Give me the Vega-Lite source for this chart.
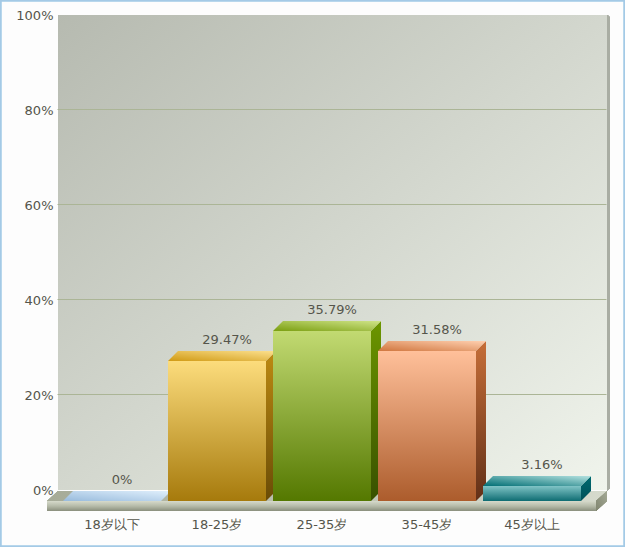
{
"$schema":"https://vega.github.io/schema/vega-lite/v6.json",
"width":549,"height":475,
"autosize":{"type":"none"},
"padding":{"left":58,"top":15,"right":18,"bottom":57},
"background":"#fdfdfd",
"config":{"font":"DejaVu Sans","view":{"stroke":null},
"axis":{"labelFont":"DejaVu Sans","labelFontSize":13,"labelColor":"#55554b","title":null,"domain":false,"ticks":false}},
"view":{"stroke":null,"fill":{"gradient":"linear","x1":0,"y1":0,"x2":1,"y2":1,"stops":[{"offset":0,"color":"#b6bab0"},{"offset":1,"color":"#f0f4ec"}]}},
"data":{"values":[
{"cat":"18岁以下","pct":0,"label":"0%"},
{"cat":"18-25岁","pct":29.47,"label":"29.47%"},
{"cat":"25-35岁","pct":35.79,"label":"35.79%"},
{"cat":"35-45岁","pct":31.58,"label":"31.58%"},
{"cat":"45岁以上","pct":3.16,"label":"3.16%"}]},
"encoding":{
"x":{"field":"cat","type":"nominal","sort":null,"scale":{"domain":["18岁以下","18-25岁","25-35岁","35-45岁","45岁以上"],"paddingInner":0.0667,"paddingOuter":0.1476,"align":0.1613},"axis":{"labelAngle":0,"labelPadding":34,"labelBaseline":"middle","grid":false}},
"y":{"field":"pct","type":"quantitative","scale":{"domain":[0,100],"nice":false},"axis":{"values":[0,20,40,60,80,100],"labelExpr":"datum.value+'%'","labelPadding":4,"labelOffset":1,"translate":-0.5,"grid":true,"gridColor":{"condition":{"test":"datum.value===100||datum.value===0","value":"transparent"},"value":"#abb596"},"gridWidth":1}}
},
"layer":[
{"mark":{"type":"point","filled":true,"opacity":1,"size":4,"shape":"M-11,11L0,1L549,1L538,11Z","fill":{"gradient":"linear","x1":0,"y1":0,"x2":1,"y2":0,"stops":[{"offset":0,"color":"#a6ab98"},{"offset":1,"color":"#d6dacd"}]}},
 "encoding":{"x":{"value":0},"y":{"datum":0}}},
{"mark":{"type":"point","filled":true,"opacity":1,"size":4,"shape":"M-11,21L-11,11L538,11L538,21Z","fill":{"gradient":"linear","x1":0,"y1":0,"x2":0,"y2":1,"stops":[{"offset":0,"color":"#d6dacb"},{"offset":0.5,"color":"#b6bba9"},{"offset":1,"color":"#8a8f7d"}]}},
 "encoding":{"x":{"value":0},"y":{"datum":0}}},
{"mark":{"type":"point","filled":true,"opacity":1,"size":4,"shape":"M538,21L538,11L549,1L549,11Z","fill":{"gradient":"linear","x1":0,"y1":1,"x2":1,"y2":0,"stops":[{"offset":0,"color":"#80856f"},{"offset":1,"color":"#a5aa97"}]}},
 "encoding":{"x":{"value":0},"y":{"datum":0}}},
{"mark":{"type":"point","filled":true,"opacity":1,"size":4,"shape":"M0,0L2,1L3,3L3,473L0,476Z","fill":"#a9ada3"},
 "encoding":{"x":{"value":549},"y":{"datum":100}}},

{"transform":[{"filter":"datum.cat==='18-25岁'"}],"mark":{"type":"point","filled":true,"opacity":1,"size":4,"shape":"M49,11L59,1L59,141L49,151Z","fill":{"gradient":"linear","x1":0,"y1":0,"x2":0,"y2":1,"stops":[{"offset":0,"color":"#bd8a12"},{"offset":1,"color":"#6a4c06"}]}}},
{"transform":[{"filter":"datum.cat==='25-35岁'"}],"mark":{"type":"point","filled":true,"opacity":1,"size":4,"shape":"M49,11L59,1L59,171L49,181Z","fill":{"gradient":"linear","x1":0,"y1":0,"x2":0,"y2":1,"stops":[{"offset":0,"color":"#6c9600"},{"offset":1,"color":"#385000"}]}}},
{"transform":[{"filter":"datum.cat==='35-45岁'"}],"mark":{"type":"point","filled":true,"opacity":1,"size":4,"shape":"M49,11L59,1L59,151L49,161Z","fill":{"gradient":"linear","x1":0,"y1":0,"x2":0,"y2":1,"stops":[{"offset":0,"color":"#c66e38"},{"offset":1,"color":"#623018"}]}}},
{"transform":[{"filter":"datum.cat==='45岁以上'"}],"mark":{"type":"point","filled":true,"opacity":1,"size":4,"shape":"M49,11L59,1L59,16L49,26Z","fill":{"gradient":"linear","x1":0,"y1":0,"x2":0,"y2":1,"stops":[{"offset":0,"color":"#006a70"},{"offset":1,"color":"#004f58"}]}}},

{"transform":[{"filter":"datum.cat==='18岁以下'"}],"mark":{"type":"point","filled":true,"opacity":1,"size":4,"shape":"M-49,11L-39,1L59,1L49,11Z","fill":{"gradient":"linear","x1":0,"y1":1,"x2":1,"y2":0,"stops":[{"offset":0,"color":"#98bbdc"},{"offset":1,"color":"#e0effc"}]}}},
{"transform":[{"filter":"datum.cat==='18-25岁'"}],"mark":{"type":"point","filled":true,"opacity":1,"size":4,"shape":"M-49,11L-39,1L59,1L49,11Z","fill":{"gradient":"linear","x1":0,"y1":1,"x2":1,"y2":0,"stops":[{"offset":0,"color":"#d09a14"},{"offset":1,"color":"#fce08e"}]}}},
{"transform":[{"filter":"datum.cat==='25-35岁'"}],"mark":{"type":"point","filled":true,"opacity":1,"size":4,"shape":"M-49,11L-39,1L59,1L49,11Z","fill":{"gradient":"linear","x1":0,"y1":1,"x2":1,"y2":0,"stops":[{"offset":0,"color":"#7a9e10"},{"offset":1,"color":"#cfe488"}]}}},
{"transform":[{"filter":"datum.cat==='35-45岁'"}],"mark":{"type":"point","filled":true,"opacity":1,"size":4,"shape":"M-49,11L-39,1L59,1L49,11Z","fill":{"gradient":"linear","x1":0,"y1":1,"x2":1,"y2":0,"stops":[{"offset":0,"color":"#d0763e"},{"offset":1,"color":"#ffd0b0"}]}}},
{"transform":[{"filter":"datum.cat==='45岁以上'"}],"mark":{"type":"point","filled":true,"opacity":1,"size":4,"shape":"M-49,11L-39,1L59,1L49,11Z","fill":{"gradient":"linear","x1":0,"y1":1,"x2":1,"y2":0,"stops":[{"offset":0,"color":"#006e74"},{"offset":1,"color":"#b4e2e0"}]}}},

{"transform":[{"filter":"datum.cat==='18岁以下'"}],"mark":{"type":"bar","yOffset":11,"y2Offset":11,"fill":"#b0cce6"}},
{"transform":[{"filter":"datum.cat==='18-25岁'"}],"mark":{"type":"bar","yOffset":11,"y2Offset":11,"fill":{"gradient":"linear","x1":0,"y1":0,"x2":0,"y2":1,"stops":[{"offset":0,"color":"#fcdc7c"},{"offset":1,"color":"#a67a0c"}]}}},
{"transform":[{"filter":"datum.cat==='25-35岁'"}],"mark":{"type":"bar","yOffset":11,"y2Offset":11,"fill":{"gradient":"linear","x1":0,"y1":0,"x2":0,"y2":1,"stops":[{"offset":0,"color":"#c2da72"},{"offset":1,"color":"#547800"}]}}},
{"transform":[{"filter":"datum.cat==='35-45岁'"}],"mark":{"type":"bar","yOffset":11,"y2Offset":11,"fill":{"gradient":"linear","x1":0,"y1":0,"x2":0,"y2":1,"stops":[{"offset":0,"color":"#ffc09a"},{"offset":1,"color":"#ac5c2c"}]}}},
{"transform":[{"filter":"datum.cat==='45岁以上'"}],"mark":{"type":"bar","yOffset":11,"y2Offset":11,"fill":{"gradient":"linear","x1":0,"y1":0,"x2":0,"y2":1,"stops":[{"offset":0,"color":"#80c4c6"},{"offset":1,"color":"#0e6c72"}]}}},

{"mark":{"type":"text","xOffset":10,"yOffset":-10,"baseline":"middle","align":"center","font":"DejaVu Sans","fontSize":13,"color":"#55554b"},
 "encoding":{"text":{"field":"label","type":"nominal"}}},
{"mark":{"type":"rect","fill":null,"stroke":"#a4cae6","strokeWidth":1.5,"clip":false},
 "encoding":{"x":{"value":-57.5},"x2":{"value":566.5},"y":{"value":-14.5},"y2":{"value":531.5}}}
]
}
